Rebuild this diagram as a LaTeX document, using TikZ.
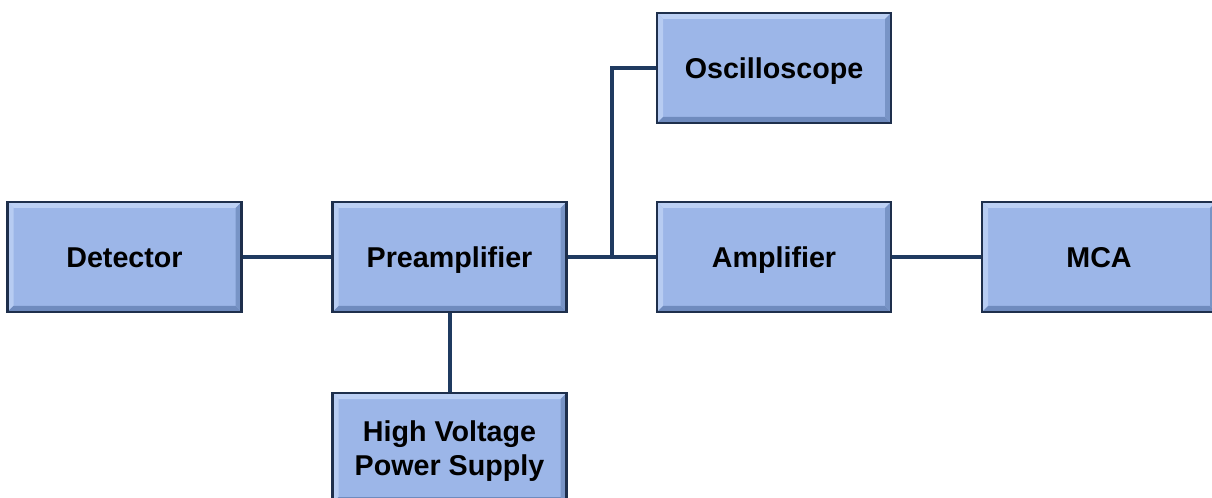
\documentclass[tikz,border=0pt]{standalone}
\usepackage{fontspec}
\setmainfont{Liberation Sans}
\definecolor{boxfill}{HTML}{9CB6E8}
\definecolor{boxedge}{HTML}{1E2F4C}
\definecolor{bevlight}{HTML}{BCD0F4}
\definecolor{bevdark}{HTML}{6F8BBE}
\definecolor{wire}{HTML}{1F3A60}
\tikzset{
  bx/.style={rectangle, draw=boxedge, line width=2pt, fill=boxfill,
    minimum width=175.5pt, minimum height=82.5pt, align=center,
    text height=15.4pt, text depth=0pt,
    font=\fontsize{21.5}{25.5}\selectfont\bfseries,
    path picture={
      \fill[bevlight] (path picture bounding box.north west) -- (path picture bounding box.north east)
        -- ([shift={(-4.5pt,-4.5pt)}]path picture bounding box.north east) -- ([shift={(4.5pt,-4.5pt)}]path picture bounding box.north west) -- cycle;
      \fill[bevlight!85!boxfill] (path picture bounding box.north west) -- ([shift={(4.5pt,-4.5pt)}]path picture bounding box.north west)
        -- ([shift={(4.5pt,4.5pt)}]path picture bounding box.south west) -- (path picture bounding box.south west) -- cycle;
      \fill[bevdark] (path picture bounding box.south west) -- (path picture bounding box.south east)
        -- ([shift={(-4.5pt,4.5pt)}]path picture bounding box.south east) -- ([shift={(4.5pt,4.5pt)}]path picture bounding box.south west) -- cycle;
      \fill[bevdark!80!boxfill] (path picture bounding box.north east) -- ([shift={(-4.5pt,-4.5pt)}]path picture bounding box.north east)
        -- ([shift={(-4.5pt,4.5pt)}]path picture bounding box.south east) -- (path picture bounding box.south east) -- cycle;
    }},
  twoline/.style={text height=40.9pt, text depth=0pt},
  wireline/.style={draw=wire, line width=3pt}
}
\begin{document}
\begin{tikzpicture}[x=0.75pt,y=-0.75pt]
\useasboundingbox (0,0) rectangle (1212,498);
\clip (0,0) rectangle (1212,498);
\node[bx] (det) at (124.5,257) {Detector};
\node[bx] (pre) at (449.5,257) {Preamplifier};
\node[bx] (osc) at (774,68) {Oscilloscope};
\node[bx] (amp) at (774,257) {Amplifier};
\node[bx] (mca) at (1099,257) {MCA};
\node[bx, twoline] (hv) at (449.5,448) {High Voltage\\Power Supply};
\coordinate (j) at (612,257);
\draw[wireline] (det.east) -- (pre.west);
\draw[wireline] (pre.east) -- (amp.west);
\draw[wireline] (j) |- (osc.west);
\draw[wireline] (pre.south) -- (hv.north);
\draw[wireline] (amp.east) -- (mca.west);
\end{tikzpicture}
\end{document}
